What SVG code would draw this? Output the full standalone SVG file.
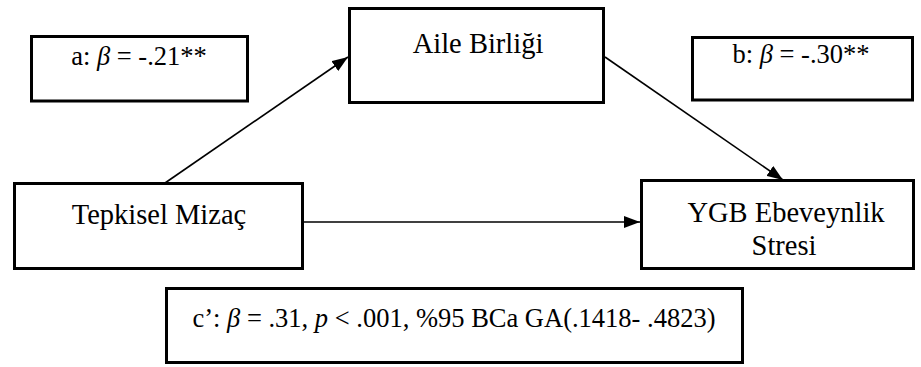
<svg xmlns="http://www.w3.org/2000/svg" width="921" height="367" viewBox="0 0 921 367">
<style>
.box{fill:#fff;stroke:#000;stroke-width:3}
.conn{stroke:#000;stroke-width:1.6;fill:none}
text{fill:#000;text-anchor:middle}
.node{font-size:28.5px}
.lab{font-size:26.5px}
</style>
<defs>
<marker id="ah" viewBox="0 0 16 12" refX="16" refY="6" markerWidth="16" markerHeight="12" markerUnits="userSpaceOnUse" orient="auto">
<path d="M0,0 L16,6 L0,12 Z" fill="#000"/>
</marker>
</defs>
<rect width="921" height="367" fill="#fff"/>
<g id="connectors">
<line class="conn" x1="165" y1="183" x2="348" y2="57" marker-end="url(#ah)"/>
<line class="conn" x1="605" y1="57" x2="783" y2="180" marker-end="url(#ah)"/>
<line class="conn" x1="303" y1="222" x2="640" y2="222" marker-end="url(#ah)"/>
</g>
<g font-family="Liberation Serif, DejaVu Serif, serif">
<g id="label-a">
<rect class="box" x="31.5" y="36.5" width="216" height="64.5"/>
<text class="lab" x="139" y="65">a: <tspan font-style="italic">β</tspan> = -.21**</text>
</g>
<g id="node-aile">
<rect class="box" x="349.5" y="8.5" width="254" height="94"/>
<text class="node" x="478" y="53">Aile Birliği</text>
</g>
<g id="label-b">
<rect class="box" x="692.5" y="37.5" width="220" height="62.5"/>
<text class="lab" x="801" y="63">b: <tspan font-style="italic">β</tspan> = -.30**</text>
</g>
<g id="node-tepkisel">
<rect class="box" x="14.5" y="183.5" width="288" height="85"/>
<text class="node" x="159" y="224">Tepkisel Mizaç</text>
</g>
<g id="node-ygb">
<rect class="box" x="641.5" y="180.5" width="272" height="88"/>
<text class="node" x="786" y="222">YGB Ebeveynlik</text>
<text class="node" x="784" y="255">Stresi</text>
</g>
<g id="label-c">
<rect class="box" x="166.5" y="288.5" width="576" height="74"/>
<text class="lab" x="454" y="327">c’: <tspan font-style="italic">β</tspan> = .31, <tspan font-style="italic">p</tspan> &lt; .001, %95 BCa GA(.1418- .4823)</text>
</g>
</g>
</svg>
